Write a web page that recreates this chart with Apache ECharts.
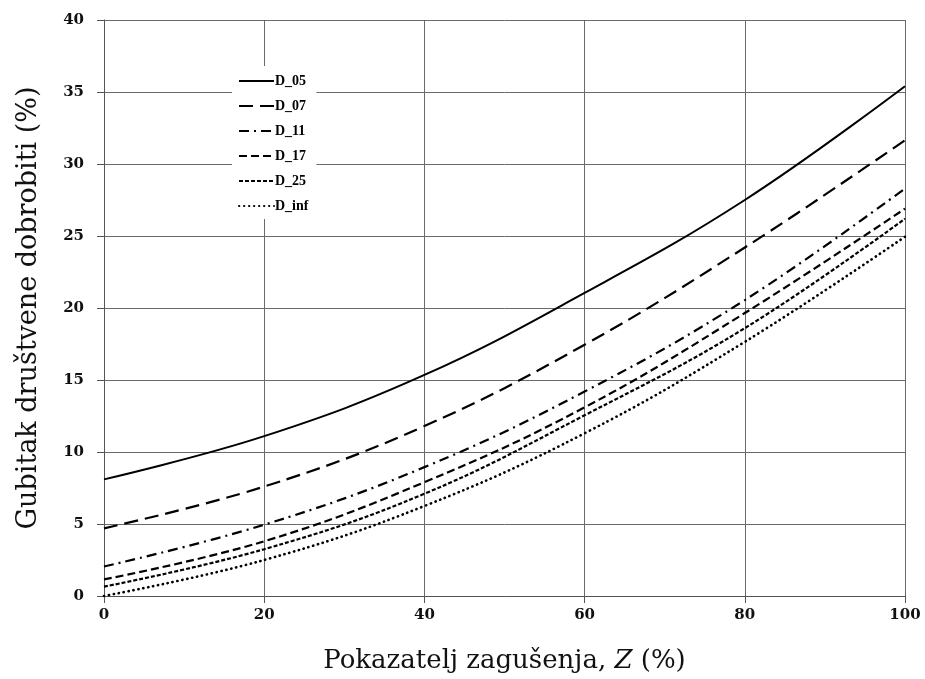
<!DOCTYPE html>
<html>
<head>
<meta charset="utf-8">
<script src="https://cdn.jsdelivr.net/npm/echarts@6/dist/echarts.min.js"></script>
<style>
html,body{margin:0;padding:0;background:#fff;}
#chart{width:925px;height:679px;}
</style>
</head>
<body>
<div id="chart"></div>
<script>
var zValues = [0, 20, 40, 60, 80, 100];
var seriesNames = ['D_05', 'D_07', 'D_11', 'D_17', 'D_25', 'D_inf'];
var D_05 = [8.1, 11.1, 15.35, 21.05, 27.5, 35.4];
var D_07 = [4.7, 7.6, 11.8, 17.45, 24.2, 31.65];
var D_11 = [2.05, 4.95, 8.95, 14.2, 20.55, 28.3];
var D_17 = [1.15, 3.8, 7.9, 13.1, 19.65, 26.9];
var D_25 = [0.65, 3.25, 7.1, 12.55, 18.6, 26.2];
var D_inf = [0, 2.5, 6.25, 11.3, 17.65, 24.95];
var yTicks = [0, 5, 10, 15, 20, 25, 30, 35, 40];
var xTicks = [0, 20, 40, 60, 80, 100];

var seriesData = [D_05, D_07, D_11, D_17, D_25, D_inf];
var dashes = ['solid', [14, 7], [10, 5, 2, 5], [8, 4], [4, 2], [0.3, 4.7]];
var widths = [2, 2.2, 2.2, 2.2, 2.2, 2.6];

function pairs(arr) { return zValues.map(function (z, i) { return [z, arr[i]]; }); }

var chart = echarts.init(document.getElementById('chart'));
var axisFont = {fontFamily: 'DejaVu Serif', fontWeight: 'bold', fontSize: 15, color: '#111'};
var xTitleFont = {fontFamily: 'DejaVu Serif', fontSize: 26, color: '#111'};
var yTitleFont = {fontFamily: 'DejaVu Serif', fontSize: 27, color: '#111'};
chart.setOption({
  backgroundColor: '#fff',
  animation: false,
  grid: {left: 104, right: 20, top: 20, bottom: 83},
  legend: {
    orient: 'vertical',
    left: 232, top: 66,
    padding: [8, 8, 6, 6],
    backgroundColor: '#fff',
    itemWidth: 35, itemHeight: 10, itemGap: 11,
    itemStyle: {opacity: 0},
    textStyle: {fontFamily: 'Liberation Serif', fontWeight: 'bold', fontSize: 14, color: '#000', padding: [0, 0, 0, -4]},
    data: seriesNames
  },
  xAxis: {
    type: 'value', min: 0, max: 100, interval: 20,
    name: 'Pokazatelj zagušenja, {i|Z} (%)',
    nameLocation: 'middle', nameGap: 52,
    nameTextStyle: Object.assign({rich: {i: Object.assign({fontStyle: 'italic'}, xTitleFont)}}, xTitleFont),
    axisLine: {show: true, lineStyle: {color: '#555', width: 1}},
    axisTick: {show: true, length: 7, lineStyle: {color: '#555'}},
    axisLabel: Object.assign({margin: 12}, axisFont),
    splitLine: {show: true, lineStyle: {color: '#6a6a6a', width: 1}}
  },
  yAxis: {
    type: 'value', min: 0, max: 40, interval: 5,
    name: 'Gubitak društvene dobrobiti (%)',
    nameLocation: 'middle', nameGap: 62,
    nameTextStyle: yTitleFont,
    axisLine: {show: true, lineStyle: {color: '#555', width: 1}},
    axisTick: {show: true, length: 7, lineStyle: {color: '#555'}},
    axisLabel: Object.assign({margin: 20}, axisFont),
    splitLine: {show: true, lineStyle: {color: '#6a6a6a', width: 1}}
  },
  series: seriesNames.map(function (n, i) {
    return {
      name: n, type: 'line', data: pairs(seriesData[i]),
      smooth: 0.4, symbol: 'none', z: 5,
      itemStyle: {color: '#000'},
      lineStyle: {color: '#000', width: widths[i], type: dashes[i], cap: i === 5 ? 'round' : 'butt'}
    };
  })
});
</script>
</body>
</html>
